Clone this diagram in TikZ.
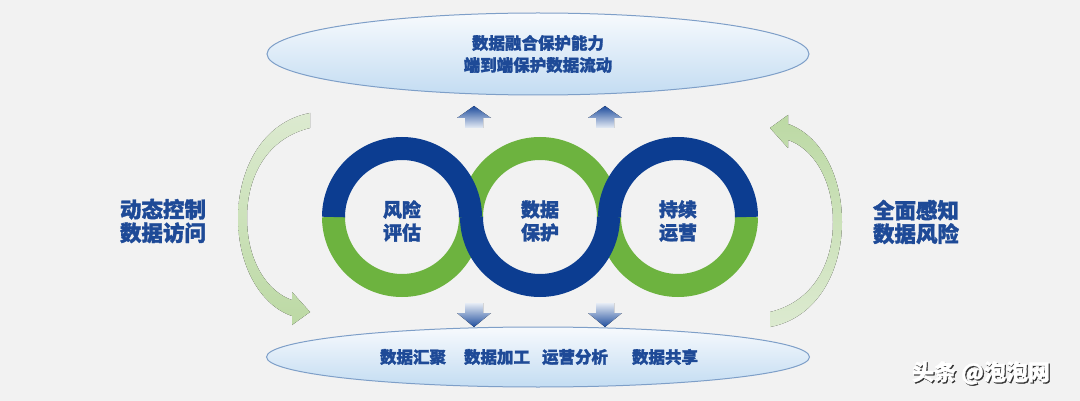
\documentclass[tikz,border=0pt]{standalone}
\usepackage{fontspec}
\newfontfamily\cjk{Noto Sans CJK SC}[BoldFeatures={FakeBold=1.6}]
\usetikzlibrary{shapes.geometric}
\definecolor{bg}{HTML}{F2F2F2}
\definecolor{ringblue}{HTML}{0C3D91}
\definecolor{ringgreen}{HTML}{6DB33F}
\definecolor{txtblue}{HTML}{1E4A97}
\definecolor{arrpale}{HTML}{DCEAD0}
\definecolor{arrsat}{HTML}{BCD9A4}
\definecolor{ellA}{HTML}{F7FAFD}
\definecolor{ellB}{HTML}{C3DCF2}
\definecolor{ellline}{HTML}{7E9FC8}
\definecolor{blkdark}{HTML}{1F4D9D}
\definecolor{blklight}{HTML}{E6ECF5}
\begin{document}
\begin{tikzpicture}[x=1pt,y=-1pt,
  ringseg/.style={line width=23pt, line cap=butt},
  ringtext/.style={font=\cjk\bfseries\fontsize{19}{23}\selectfont, text=txtblue, align=center, inner sep=0pt},
  sidetext/.style={font=\cjk\bfseries\fontsize{21.5}{23.5}\selectfont, text=txtblue, align=center, inner sep=0pt},
  ovaltext/.style={font=\cjk\bfseries\fontsize{16.5}{22}\selectfont, text=txtblue, align=center, inner sep=0pt},
  oval/.style={ellipse, draw=ellline, line width=1pt, top color=ellA, bottom color=ellB, inner sep=0pt},
  upblock/.style={top color=blkdark, bottom color=blklight},
  downblock/.style={top color=blklight, bottom color=blkdark},
  leftcurve/.style={top color=arrpale, bottom color=arrsat},
  rightcurve/.style={top color=arrsat, bottom color=arrpale},
  wmark/.style={font=\cjk\bfseries\fontsize{22}{22}\selectfont, inner sep=0pt}
]
\fill[bg] (0,0) rectangle (1080,401);
\useasboundingbox (0,0) rectangle (1080,401);

% ovals
\node[oval, ovaltext, minimum width=542pt, minimum height=82pt] (topoval) at (538,54) {数据融合保护能力\\端到端保护数据流动};
\node[oval, minimum width=543pt, minimum height=60pt] (botoval) at (538,357) {};
\node[ovaltext] (b1) at (413,357) {数据汇聚};
\node[ovaltext] (b2) at (497,357) {数据加工};
\node[ovaltext] (b3) at (575,357) {运营分析};
\node[ovaltext] (b4) at (665,357) {数据共享};

% block arrows
\fill[upblock] (474,106) -- (491,118) -- (483,118) -- (483,128) -- (465,128) -- (465,118) -- (457,118) -- cycle;
\fill[upblock] (605,106) -- (622,118) -- (614,118) -- (614,128) -- (596,128) -- (596,118) -- (588,118) -- cycle;
\fill[downblock] (474,327) -- (491,313) -- (483,313) -- (483,303) -- (465,303) -- (465,313) -- (457,313) -- cycle;
\fill[downblock] (605,327) -- (622,313) -- (614,313) -- (614,303) -- (596,303) -- (596,313) -- (588,313) -- cycle;

% curved side arrows
\fill[leftcurve] (310,113) .. controls (262,122) and (238,170) .. (238,218)
  .. controls (238,268) and (262,306) .. (292,316) -- (292,325) -- (310,312) -- (292,292) -- (292,300)
  .. controls (268,292) and (247,262) .. (247,218)
  .. controls (247,175) and (268,138) .. (310,128) -- cycle;
\begin{scope}[rotate around={180:(540,220)}]
\fill[rightcurve] (310,113) .. controls (262,122) and (238,170) .. (238,218)
  .. controls (238,268) and (262,306) .. (292,316) -- (292,325) -- (310,312) -- (292,292) -- (292,300)
  .. controls (268,292) and (247,262) .. (247,218)
  .. controls (247,175) and (268,138) .. (310,128) -- cycle;
\end{scope}

% rings: green halves first, blue halves on top
\draw[ringseg, ringgreen] (470.5,217) arc[start angle=0, end angle=180, radius=68.5];
\draw[ringseg, ringgreen] (471.5,217) arc[start angle=180, end angle=360, radius=68.5];
\draw[ringseg, ringgreen] (746.5,217) arc[start angle=0, end angle=180, radius=68.5];
\draw[ringseg, ringblue] (333.5,217) arc[start angle=180, end angle=360, radius=68.5];
\draw[ringseg, ringblue] (608.5,217) arc[start angle=0, end angle=180, radius=68.5];
\draw[ringseg, ringblue] (609.5,217) arc[start angle=180, end angle=360, radius=68.5];

\node[ringtext] (r1) at (402,221) {风险\\评估};
\node[ringtext] (r2) at (540,221) {数据\\保护};
\node[ringtext] (r3) at (678,221) {持续\\运营};

\node[sidetext] (lt) at (163,221) {动态控制\\数据访问};
\node[sidetext] (rt) at (916,222) {全面感知\\数据风险};

% watermark
\node[wmark, text=black!80] (wms) at (982.2,374.2) {头条 @泡泡网};
\node[wmark, text=white] (wm) at (981,373) {头条 @泡泡网};
\end{tikzpicture}
\end{document}
